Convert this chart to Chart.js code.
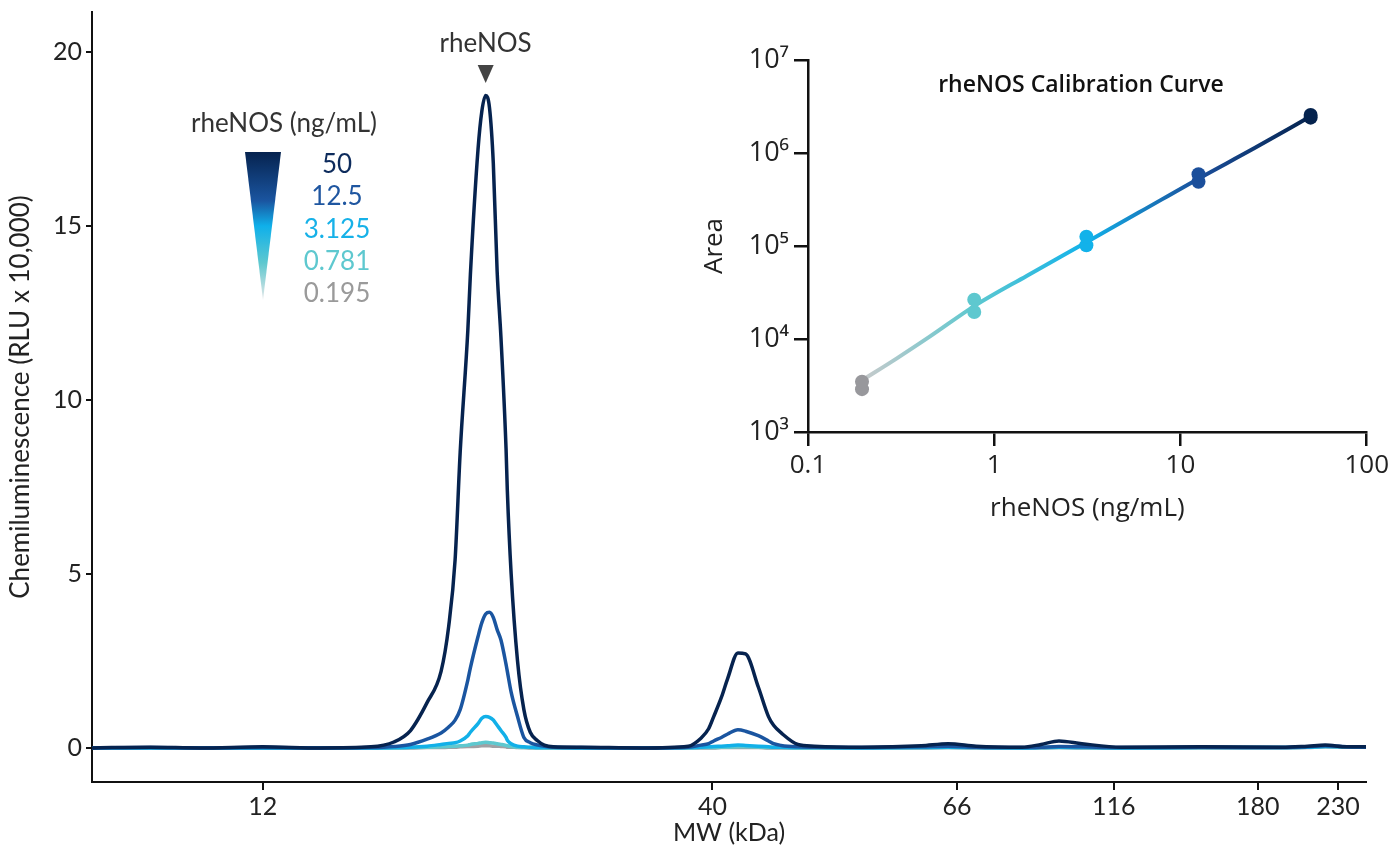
<!DOCTYPE html>
<html>
<head>
<meta charset="utf-8">
<script src="https://cdn.jsdelivr.net/npm/chart.js@4.4.0/dist/chart.umd.min.js"></script>
<style>
  html, body { margin: 0; padding: 0; background: #fff; }
  #wrap { position: relative; width: 1393px; height: 847px; }
  #mainChart { position: absolute; left: 0; top: 0; }
  #insetChart { position: absolute; left: 690px; top: 30px; }
</style>
</head>
<body>
<div id="wrap">
  <canvas id="mainChart" width="1393" height="847"></canvas>
  <canvas id="insetChart" width="703" height="500"></canvas>
</div>
<script>
// lane position (0-100) of each sampled point
const position = [0, 4.6, 8.5, 13.4, 17.9, 21.9, 23.7, 25.0, 26.3, 27.4, 28.0, 28.5, 28.9, 29.5, 29.7, 30.3, 30.6, 30.9, 31.2, 31.5,
  31.8, 32.1, 32.5, 32.6, 32.9, 33.4, 33.9, 34.4, 35.0, 35.5, 36.2, 38.4, 43.1, 46.8, 47.8, 48.4, 48.8, 49.4, 49.9, 50.7,
  51.3, 52.3, 53.1, 53.5, 54.1, 55.4, 56.7, 60.4, 65.1, 67.2, 69.4, 73.0, 74.5, 75.9, 77.7, 80.8, 87.1, 93.4, 95.4, 96.8,
  98.5, 100];

// chemiluminescence (RLU x 10,000) for each rheNOS concentration
const trace50 = [0.00, 0.02, 0.00, 0.03, 0.00, 0.03, 0.17, 0.50, 1.30, 2.20, 3.50, 5.40, 8.50, 12.00, 13.60, 17.20, 18.30, 18.75, 18.40, 16.80,
  13.70, 11.80, 8.60, 7.40, 5.00, 2.50, 1.10, 0.45, 0.20, 0.08, 0.03, 0.02, 0.00, 0.05, 0.28, 0.55, 0.90, 1.45, 2.00, 2.73,
  2.70, 1.75, 0.90, 0.65, 0.43, 0.10, 0.05, 0.02, 0.06, 0.12, 0.05, 0.02, 0.10, 0.20, 0.12, 0.02, 0.03, 0.02, 0.05, 0.08,
  0.03, 0.03];
const trace12 = [0.00, 0.01, 0.00, 0.01, 0.00, 0.01, 0.04, 0.10, 0.25, 0.43, 0.60, 0.80, 1.10, 1.95, 2.30, 3.20, 3.60, 3.85, 3.90, 3.75,
  3.40, 3.10, 2.40, 2.20, 1.60, 0.90, 0.30, 0.15, 0.08, 0.05, 0.02, 0.01, 0.00, 0.02, 0.08, 0.12, 0.20, 0.30, 0.40, 0.52,
  0.48, 0.35, 0.20, 0.12, 0.07, 0.03, 0.02, 0.01, 0.03, 0.05, 0.02, 0.01, 0.02, 0.04, 0.03, 0.01, 0.02, 0.01, 0.03, 0.06,
  0.03, 0.02];
const trace3 = [0, 0, 0, 0, 0, 0, 0.01, 0.02, 0.05, 0.10, 0.13, 0.15, 0.20, 0.35, 0.45, 0.70, 0.85, 0.90, 0.88, 0.80,
  0.65, 0.50, 0.30, 0.22, 0.12, 0.05, 0.03, 0.02, 0.01, 0.01, 0.01, 0.00, 0.00, 0.01, 0.02, 0.03, 0.04, 0.05, 0.06, 0.08,
  0.07, 0.05, 0.03, 0.02, 0.02, 0.01, 0.01, 0.00, 0.01, 0.02, 0.01, 0.00, 0.01, 0.02, 0.01, 0.00, 0.01, 0.01, 0.02, 0.04,
  0.03, 0.02];
const trace07 = [0, 0, 0, 0, 0, 0, 0, 0.01, 0.02, 0.03, 0.04, 0.05, 0.06, 0.08, 0.10, 0.13, 0.15, 0.16, 0.15, 0.14,
  0.12, 0.10, 0.07, 0.06, 0.04, 0.02, 0.01, 0.01, 0, 0, 0, 0, 0, 0, 0.01, 0.01, 0.01, 0.02, 0.02, 0.03,
  0.03, 0.02, 0.01, 0.01, 0.01, 0, 0, 0, 0.01, 0.01, 0.01, 0, 0.01, 0.01, 0.01, 0, 0.01, 0.01, 0.02, 0.04,
  0.03, 0.03];
const trace02 = [0, 0, 0, 0, 0, 0, 0, 0, 0.01, 0.01, 0.02, 0.02, 0.03, 0.04, 0.04, 0.05, 0.06, 0.06, 0.06, 0.05,
  0.05, 0.04, 0.03, 0.02, 0.02, 0.01, 0.01, 0, 0, 0, 0, 0, 0, 0, 0, 0, 0, 0.01, 0.01, 0.01,
  0.01, 0.01, 0, 0, 0, 0, 0, 0, 0, 0.01, 0, 0, 0, 0.01, 0, 0, 0, 0, 0.01, 0.03,
  0.02, 0.02];

const concLabels = ['50', '12.5', '3.125', '0.781', '0.195'];
const traceColors = ['#06234f', '#1a55a0', '#12b0e8', '#5ec8cf', '#a0a0a4'];
const labelColors = ['#0d2b5c', '#1f56a0', '#16b1e8', '#5ec8cf', '#9a9a9a'];

// MW markers along the lane
const mwPos = [13.4, 48.7, 67.9, 80.2, 91.5, 97.8];
const mwLabels = ['12', '40', '66', '116', '180', '230'];
const yTicks = [0, 5, 10, 15, 20];

// calibration curve (inset)
const calConc = [0.195, 0.781, 3.125, 12.5, 50];
const calRep1 = [3470, 26500, 126000, 590000, 2560000];
const calRep2 = [2890, 19500, 102000, 490000, 2400000];
const fitConc = [0.195, 0.3, 0.45, 0.781, 1.5, 3.125, 6, 12.5, 25, 50];
const fitArea = [3600, 6200, 10600, 22600, 48000, 110000, 230000, 530000, 1130000, 2480000];
const calColors = ['#98989c', '#5ec8cf', '#12b2ea', '#1b4f9b', '#05234e'];
const fitColors = ['#c8cacb', '#5ec8cf', '#12b2ea', '#1b4f9b', '#05234e'];
const calTicksX = [0.1, 1, 10, 100];
const calTicksY = [1e3, 1e4, 1e5, 1e6, 1e7];
const sup = { 3: '\u00b3', 4: '\u2074', 5: '\u2075', 6: '\u2076', 7: '\u2077' };

const mainFont = 'Lato, "Open Sans", sans-serif';
const insetFont = '"Open Sans", "Noto Sans", sans-serif';

const traces = [trace50, trace12, trace3, trace07, trace02];

// legend, peak marker
const mainDecor = {
  id: 'mainDecor',
  afterDraw(chart) {
    const c = chart.ctx;
    const xs = chart.scales.x;
    c.save();
    c.font = '26px ' + mainFont;
    c.fillStyle = '#333';
    c.textAlign = 'center';
    c.textBaseline = 'middle';

    // peak label
    const peakIdx = trace50.indexOf(Math.max(...trace50));
    const px = xs.getPixelForValue(position[peakIdx]);
    c.fillText('rheNOS', px, 44);
    c.fillStyle = '#444';
    c.beginPath();
    c.moveTo(px - 8, 65);
    c.lineTo(px + 8, 65);
    c.lineTo(px, 83);
    c.closePath();
    c.fill();

    // concentration legend
    c.fillStyle = '#333';
    c.fillText('rheNOS (ng/mL)', 284, 124);
    const g = c.createLinearGradient(0, 152, 0, 300);
    g.addColorStop(0, '#06234f');
    g.addColorStop(0.33, '#1a55a0');
    g.addColorStop(0.5, '#0fb0ea');
    g.addColorStop(0.75, '#5ec8cf');
    g.addColorStop(1, '#e4e7e8');
    c.fillStyle = g;
    c.beginPath();
    c.moveTo(245, 152);
    c.lineTo(281, 152);
    c.lineTo(263, 300);
    c.closePath();
    c.fill();
    const ys = [165, 197, 230, 262, 294];
    concLabels.forEach((t, i) => {
      c.fillStyle = labelColors[i];
      c.fillText(t, 337, ys[i]);
    });
    c.restore();
  }
};

new Chart(document.getElementById('mainChart'), {
  type: 'line',
  data: {
    datasets: traces.map((t, i) => ({
      label: concLabels[i],
      data: position.map((p, j) => ({ x: p, y: t[j] })),
      borderColor: traceColors[i],
      borderWidth: 3.5,
      pointRadius: 0,
      cubicInterpolationMode: 'monotone',
      fill: false
    }))
  },
  options: {
    responsive: false,
    animation: false,
    devicePixelRatio: 1,
    layout: { padding: { left: 0, right: 27, top: 12, bottom: 0 } },
    plugins: { legend: { display: false }, tooltip: { enabled: false } },
    scales: {
      x: {
        type: 'linear',
        min: 0,
        max: 100,
        afterBuildTicks: s => { s.ticks = mwPos.map(v => ({ value: v })); },
        afterFit: s => { s.height = 65; },
        ticks: {
          callback: (v, i) => mwLabels[i],
          font: { family: mainFont, size: 25 },
          color: '#222',
          padding: 2,
          maxRotation: 0,
          autoSkip: false
        },
        grid: { display: true, drawOnChartArea: false, drawTicks: true, tickLength: 8, color: '#111', lineWidth: 2 },
        border: { display: true, color: '#111', width: 2 },
        title: { display: true, text: 'MW (kDa)', font: { family: mainFont, size: 25 }, color: '#222', padding: { top: 0, bottom: -1 } }
      },
      y: {
        min: -0.98,
        max: 21.15,
        afterBuildTicks: s => { s.ticks = yTicks.map(v => ({ value: v })); },
        afterFit: s => { s.width = 92; s.paddingTop = 0; s.paddingBottom = 0; },
        ticks: {
          font: { family: mainFont, size: 25 },
          color: '#222',
          padding: 4
        },
        grid: { display: true, drawOnChartArea: false, drawTicks: true, tickLength: 6, color: '#111', lineWidth: 2 },
        border: { display: true, color: '#111', width: 2 },
        title: { display: true, text: 'Chemiluminescence (RLU x 10,000)', font: { family: mainFont, size: 26 }, color: '#222', padding: { top: 5, bottom: 0 } }
      }
    }
  },
  plugins: [mainDecor]
});

// inset title
const insetDecor = {
  id: 'insetDecor',
  afterDraw(chart) {
    const c = chart.ctx;
    c.save();
    c.font = '600 23px ' + insetFont;
    c.fillStyle = '#111';
    c.textAlign = 'center';
    c.textBaseline = 'middle';
    c.fillText('rheNOS Calibration Curve', chart.chartArea.left + 273, chart.chartArea.top + 25);
    c.restore();
  }
};

function fitGradient(context) {
  const chart = context.chart;
  if (!chart.chartArea) return fitColors[2];
  const xs = chart.scales.x;
  const x0 = xs.getPixelForValue(calConc[0]);
  const x1 = xs.getPixelForValue(calConc[calConc.length - 1]);
  const g = chart.ctx.createLinearGradient(x0, 0, x1, 0);
  calConc.forEach((v, i) => g.addColorStop((xs.getPixelForValue(v) - x0) / (x1 - x0), fitColors[i]));
  return g;
}

new Chart(document.getElementById('insetChart'), {
  type: 'scatter',
  data: {
    datasets: [
      {
        data: calConc.map((c, i) => ({ x: c, y: calRep1[i] })),
        backgroundColor: calColors, borderColor: calColors, pointRadius: 7, pointBorderWidth: 0
      },
      {
        data: calConc.map((c, i) => ({ x: c, y: calRep2[i] })),
        backgroundColor: calColors, borderColor: calColors, pointRadius: 7, pointBorderWidth: 0
      },
      {
        type: 'line',
        data: fitConc.map((c, i) => ({ x: c, y: fitArea[i] })),
        borderColor: fitGradient,
        borderWidth: 4,
        pointRadius: 0,
        cubicInterpolationMode: 'monotone',
        fill: false
      }
    ]
  },
  options: {
    responsive: false,
    animation: false,
    devicePixelRatio: 1,
    layout: { padding: { left: 0, right: 26, top: 30, bottom: 0 } },
    plugins: { legend: { display: false }, tooltip: { enabled: false } },
    scales: {
      x: {
        type: 'logarithmic',
        min: 0.1,
        max: 100,
        afterBuildTicks: s => { s.ticks = calTicksX.map(v => ({ value: v })); },
        afterFit: s => { s.height = 98; },
        ticks: {
          callback: v => String(v),
          font: { family: insetFont, size: 26 },
          color: '#222',
          padding: 4,
          maxRotation: 0,
          autoSkip: false
        },
        grid: { display: true, drawOnChartArea: false, drawTicks: true, tickLength: 14, color: '#111', lineWidth: 2.5 },
        border: { display: true, color: '#111', width: 2.5 },
        title: { display: true, text: 'rheNOS (ng/mL)', font: { family: insetFont, size: 26 }, color: '#222', padding: { top: 0, bottom: 6 } }
      },
      y: {
        type: 'logarithmic',
        min: 1e3,
        max: 1e7,
        afterBuildTicks: s => { s.ticks = calTicksY.map(v => ({ value: v })); },
        afterFit: s => { s.width = 118; },
        ticks: {
          callback: v => '10' + sup[Math.round(Math.log10(v))],
          font: { family: insetFont, size: 27 },
          color: '#222',
          padding: 5,
          autoSkip: false
        },
        grid: { display: true, drawOnChartArea: false, drawTicks: true, tickLength: 14, color: '#111', lineWidth: 2.5 },
        border: { display: true, color: '#111', width: 2.5 },
        title: { display: true, text: 'Area', font: { family: insetFont, size: 26 }, color: '#222', padding: { top: 9, bottom: 0 } }
      }
    }
  },
  plugins: [insetDecor]
});
</script>
</body>
</html>
